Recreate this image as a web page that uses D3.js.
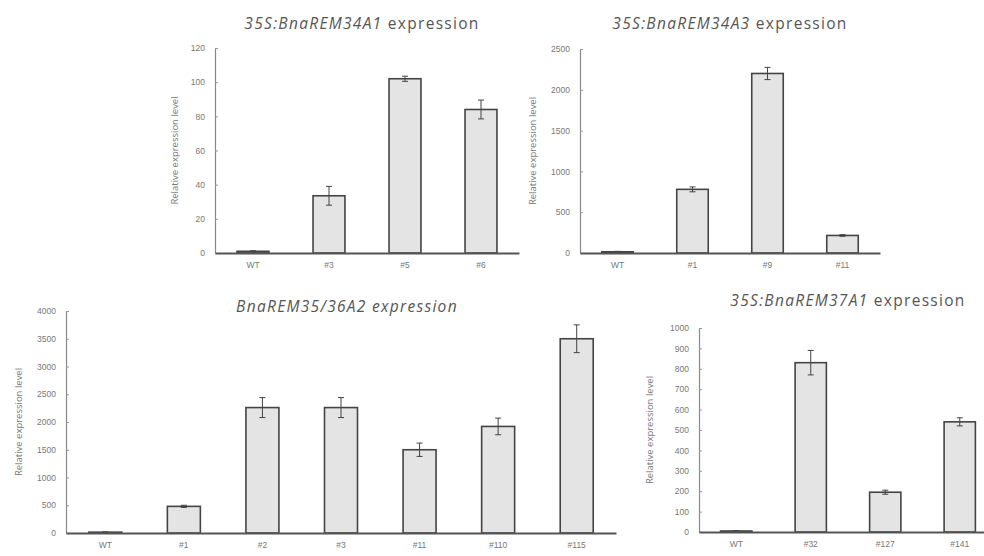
<!DOCTYPE html>
<html>
<head>
<meta charset="utf-8">
<script src="https://cdn.jsdelivr.net/npm/d3@7"></script>
<style>
  body { margin: 0; background: #fff; }
  svg { display: block; font-family: "Open Sans", sans-serif; }
</style>
</head>
<body>
<div id="chart"></div>
<script>
// data per panel
const cats1 = ["WT", "#3", "#5", "#6"];
const vals1 = [1, 33.5, 102, 84];
const errs1 = [0.3, 5.5, 1.5, 5.5];
const ticks1 = [0, 20, 40, 60, 80, 100, 120];

const cats2 = ["WT", "#1", "#9", "#11"];
const vals2 = [15, 780, 2200, 215];
const errs2 = [5, 30, 75, 10];
const ticks2 = [0, 500, 1000, 1500, 2000, 2500];

const cats3 = ["WT", "#1", "#2", "#3", "#11", "#110", "#115"];
const vals3 = [15, 480, 2260, 2260, 1500, 1920, 3500];
const errs3 = [5, 20, 180, 180, 120, 150, 250];
const ticks3 = [0, 500, 1000, 1500, 2000, 2500, 3000, 3500, 4000];

const cats4 = ["WT", "#32", "#127", "#141"];
const vals4 = [5, 830, 195, 540];
const errs4 = [2, 60, 10, 20];
const ticks4 = [0, 100, 200, 300, 400, 500, 600, 700, 800, 900, 1000];

const svg = d3.select("#chart").append("svg")
  .attr("width", 984)
  .attr("height", 556);

function drawPanel(opt) {
  const x = d3.scaleBand()
    .domain(opt.cats)
    .range([opt.x0, opt.x1])
    .paddingInner(0.58)
    .paddingOuter(0.29);

  const y = d3.scaleLinear()
    .domain([0, d3.max(opt.ticks)])
    .range([opt.yBottom, opt.yTop]);

  const g = svg.append("g");

  // y axis
  const yAxis = g.append("g")
    .attr("transform", `translate(${opt.x0},0)`)
    .call(d3.axisLeft(y).tickValues(opt.ticks).tickFormat(d3.format("d"))
      .tickSizeInner(-3).tickSizeOuter(0).tickPadding(10));
  yAxis.select(".domain").attr("stroke", "#888").attr("stroke-width", 1.2);
  yAxis.selectAll(".tick line").attr("stroke", "#999");
  yAxis.selectAll(".tick text").attr("fill", "#777").style("font-size", "8.5px");

  // bars
  g.selectAll("rect.bar")
    .data(opt.vals)
    .join("rect")
    .attr("class", "bar")
    .attr("x", (d, i) => x(opt.cats[i]))
    .attr("width", x.bandwidth())
    .attr("y", d => y(d))
    .attr("height", d => y(0) - y(d))
    .attr("fill", "#e4e4e4")
    .attr("stroke", "#444")
    .attr("stroke-width", 1.6);

  // error bars
  const eb = g.selectAll("g.err")
    .data(opt.vals)
    .join("g")
    .attr("class", "err")
    .attr("stroke", "#444")
    .attr("stroke-width", 1);
  const cx = i => x(opt.cats[i]) + x.bandwidth() / 2;
  eb.append("line")
    .attr("x1", (d, i) => cx(i))
    .attr("x2", (d, i) => cx(i))
    .attr("y1", (d, i) => y(d + opt.errs[i]))
    .attr("y2", (d, i) => y(d - opt.errs[i]));
  eb.append("line")
    .attr("x1", (d, i) => cx(i) - 3)
    .attr("x2", (d, i) => cx(i) + 3)
    .attr("y1", (d, i) => y(d + opt.errs[i]))
    .attr("y2", (d, i) => y(d + opt.errs[i]));
  eb.append("line")
    .attr("x1", (d, i) => cx(i) - 3)
    .attr("x2", (d, i) => cx(i) + 3)
    .attr("y1", (d, i) => y(d - opt.errs[i]))
    .attr("y2", (d, i) => y(d - opt.errs[i]));

  // x axis
  const xAxis = g.append("g")
    .attr("transform", `translate(0,${opt.yBottom})`)
    .call(d3.axisBottom(x).tickSize(0).tickPadding(9));
  xAxis.select(".domain").attr("stroke", "#555").attr("stroke-width", 1.8);
  xAxis.selectAll(".tick text").attr("fill", "#777").style("font-size", "8.5px");

  // y label
  g.append("text")
    .attr("transform", `translate(${opt.labelX},${(opt.yTop + opt.yBottom) / 2}) rotate(-90)`)
    .attr("text-anchor", "middle")
    .attr("fill", "#777")
    .style("font-size", "9.5px")
    .text("Relative expression level");

  // title
  const t = g.append("text")
    .attr("x", opt.titleX)
    .attr("y", opt.titleY)
    .attr("text-anchor", "middle")
    .attr("fill", "#555")
    .style("font-size", "15.5px")
    .style("letter-spacing", "1.3px");
  t.append("tspan").style("font-style", "italic").text(opt.gene);
  t.append("tspan").style("font-style", opt.allItalic ? "italic" : "normal").text(" expression");
}

drawPanel({ cats: cats1, vals: vals1, errs: errs1, ticks: ticks1,
  x0: 215, x1: 519, yTop: 48, yBottom: 253, labelX: 178,
  titleX: 362, titleY: 29, gene: "35S:BnaREM34A1" });

drawPanel({ cats: cats2, vals: vals2, errs: errs2, ticks: ticks2,
  x0: 580, x1: 880, yTop: 49, yBottom: 253, labelX: 536,
  titleX: 730, titleY: 29, gene: "35S:BnaREM34A3" });

drawPanel({ cats: cats3, vals: vals3, errs: errs3, ticks: ticks3,
  x0: 66, x1: 616, yTop: 311, yBottom: 533, labelX: 22,
  titleX: 347, titleY: 312, gene: "BnaREM35/36A2", allItalic: true });

drawPanel({ cats: cats4, vals: vals4, errs: errs4, ticks: ticks4,
  x0: 699, x1: 997, yTop: 328, yBottom: 532, labelX: 653,
  titleX: 848, titleY: 306, gene: "35S:BnaREM37A1" });
</script>
</body>
</html>
